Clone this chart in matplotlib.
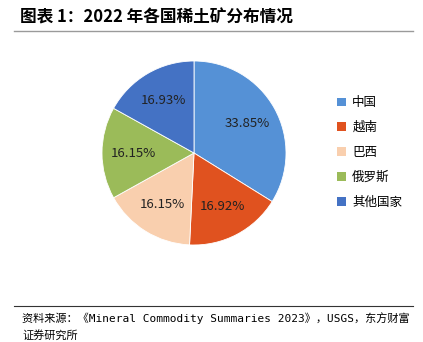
import matplotlib.pyplot as plt
from matplotlib.lines import Line2D
from matplotlib.patches import Patch

plt.rcParams['font.family'] = ['Noto Sans CJK SC', 'DejaVu Sans']

paises = ['中国', '越南', '巴西', '俄罗斯', '其他国家']
porcentajes = [33.85, 16.92, 16.15, 16.15, 16.93]
colores = ['#5591D6', '#E0521F', '#F9CFAE', '#9BBB59', '#4472C4']

W, H = 423, 342
fig = plt.figure(figsize=(W / 100, H / 100), dpi=100)

# pastel
cx, cy, r = 194, 153, 92
ax = fig.add_axes([(cx - r) / W, 1 - (cy + r) / H, 2 * r / W, 2 * r / H])
wedges, textos = ax.pie(porcentajes, colors=colores, startangle=90, counterclock=False,
                        labels=[f'{p:.2f}%' for p in porcentajes], labeldistance=0.66,
                        wedgeprops=dict(linewidth=0.6, edgecolor='white'),
                        textprops=dict(fontsize=9.5, color='#222222', ha='center', va='center'))
ax.set_xlim(-1, 1)
ax.set_ylim(-1, 1)
ax.set_aspect('equal')

# leyenda
manejadores = [Patch(facecolor=c, edgecolor='none') for c in colores]
fig.legend(manejadores, paises, loc='upper left', bbox_to_anchor=(326 / W, 1 - 85 / H),
           frameon=False, fontsize=9, handlelength=0.7, handleheight=0.7,
           handletextpad=0.5, labelspacing=0.95)

# titulo y lineas
fig.text(20 / W, 1 - 17 / H, '图表 1：2022 年各国稀土矿分布情况', fontsize=12,
         fontweight='bold', va='center', ha='left')
fig.add_artist(Line2D([14 / W, 413 / W], [1 - 31 / H, 1 - 31 / H], color='#9a9a9a', lw=1))
fig.add_artist(Line2D([14 / W, 413 / W], [1 - 306 / H, 1 - 306 / H], color='#333333', lw=0.8))

# fuente
fuente = ['DejaVu Sans Mono', 'Noto Sans CJK SC']
fig.text(22 / W, 1 - 318 / H,
         '资料来源：《Mineral Commodity Summaries 2023》，USGS，东方财富',
         fontsize=8, va='center', ha='left', family=fuente)
fig.text(22 / W, 1 - 335 / H, '证券研究所', fontsize=8, va='center', ha='left', family=fuente)

plt.savefig('out.png', dpi=100)
